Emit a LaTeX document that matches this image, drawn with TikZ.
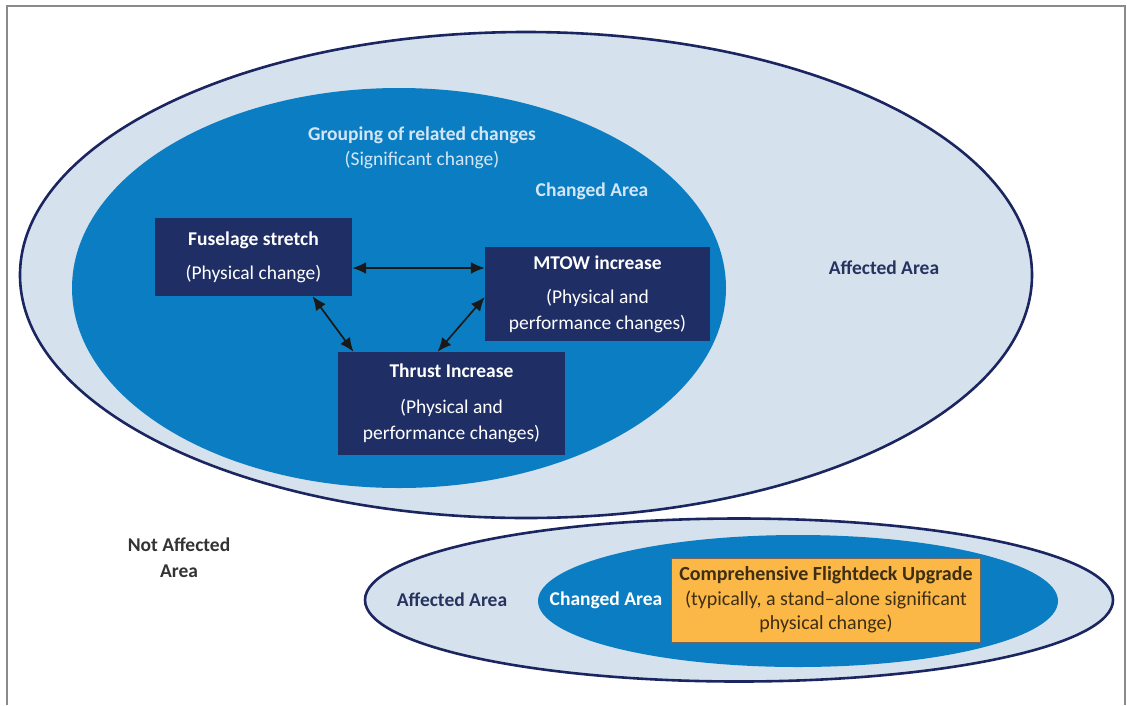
\documentclass[tikz,border=0pt]{standalone}
\usepackage{fontspec}
\setmainfont{Carlito}
\usetikzlibrary{shapes.geometric,arrows.meta}
\definecolor{affect}{HTML}{D5E2EE}
\definecolor{navyline}{HTML}{1B2560}
\definecolor{changed}{HTML}{0B7EC3}
\definecolor{boxnavy}{HTML}{1F2F66}
\definecolor{lighttxt}{HTML}{D4E6F6}
\definecolor{yellowbox}{HTML}{FBB847}
\definecolor{darktxt}{HTML}{3D2E14}
\definecolor{graytxt}{HTML}{333333}
\definecolor{affecttxt}{HTML}{27335F}
\definecolor{framegray}{HTML}{8A8A8A}
\tikzset{
  affectell/.style={ellipse, draw=navyline, line width=2.6pt, fill=affect, inner sep=0pt},
  changedell/.style={ellipse, fill=changed, inner sep=0pt},
  chgbox/.style={rectangle, fill=boxnavy, text=white, inner sep=0pt, align=center, font=\fontsize{19.5}{26}\selectfont},
  yelbox/.style={rectangle, fill=yellowbox, draw=boxnavy!60!yellowbox, line width=0.8pt, text=darktxt, inner sep=0pt, align=center, font=\fontsize{20}{24.5}\selectfont},
  lbl/.style={font=\fontsize{19.5}{26}\selectfont\bfseries, align=center, inner sep=0pt},
  link/.style={{Latex[length=14pt,width=12pt]}-{Latex[length=14pt,width=12pt]}, line width=1.7pt, black!90}
}
\begin{document}
\begin{tikzpicture}[x=1pt,y=-1pt]
\useasboundingbox (0,0) rectangle (1127,705);
\fill[white] (0,0) rectangle (1127,705);
\draw[framegray, line width=1.4pt] (7,705) -- (7,6) -- (1125,6) -- (1125,705);

% large ellipses
\node[affectell, minimum width=1012pt, minimum height=486pt] (aff1) at (526,275) {};
\node[changedell, minimum width=654pt, minimum height=400pt] (chg1) at (399,288) {};

% small ellipses
\node[affectell, minimum width=748pt, minimum height=163pt] (aff2) at (739,600) {};
\node[changedell, minimum width=520pt, minimum height=132pt] (chg2) at (798,601) {};

% labels
\node[lbl, text=lighttxt] (grp) at (422,148) {Grouping of related changes\\[-1pt]\mdseries (Significant change)};
\node[lbl, text=lighttxt] (chgl1) at (592,191) {Changed Area};
\node[lbl, text=affecttxt] (affl1) at (884,268) {Affected Area};
\node[lbl, text=graytxt] (notaff) at (179,558) {Not Affected\\Area};
\node[lbl, text=affecttxt] (affl2) at (452,600) {Affected Area};
\node[lbl, text=white] (chgl2) at (606,600) {Changed Area};

% boxes
\node[chgbox, minimum width=197pt, minimum height=78pt] (fus) at (253.5,257) {\textbf{Fuselage stretch}\\[8pt](Physical change)};
\node[chgbox, minimum width=225pt, minimum height=94pt] (mt) at (597.5,294) {\textbf{MTOW increase}\\[8pt](Physical and\\performance changes)};
\node[chgbox, minimum width=227pt, minimum height=103pt] (thr) at (451.5,403.5) {\textbf{Thrust Increase}\\[10pt](Physical and\\performance changes)};
\node[yelbox, minimum width=309pt, minimum height=84pt] (fd) at (826,600) {\textbf{Comprehensive Flightdeck Upgrade}\\(typically, a stand–alone significant\\physical change)};

% connectors
\draw[link] ([yshift=-11pt]fus.east) -- ([yshift=-11pt]fus.east -| mt.west);
\draw[link] ([xshift=59pt]fus.south) -- ([xshift=-98pt]thr.north);
\draw[link] ([yshift=-3pt]mt.west) -- ([xshift=-14pt]thr.north);
\end{tikzpicture}
\end{document}
